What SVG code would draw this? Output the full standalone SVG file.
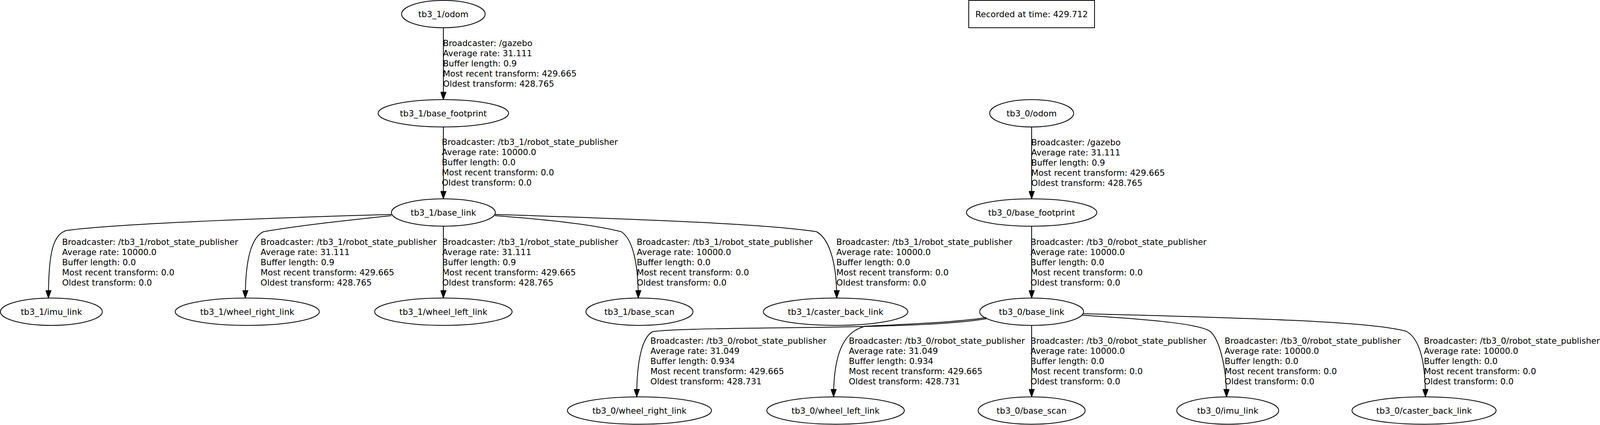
<svg xmlns="http://www.w3.org/2000/svg" width="4110" height="1088" viewBox="0 0 4110 1088">
<style>
  .node ellipse, .node rect { fill: none; stroke: #000; stroke-width: 2; }
  .nt { font-family: "DejaVu Sans", "Liberation Sans", sans-serif; font-size: 21.5px; fill: #000; text-anchor: middle; }
  .lbl { font-family: "DejaVu Sans", "Liberation Sans", sans-serif; font-size: 21.5px; fill: #000; }
  .edge { fill: none; stroke: #000; stroke-width: 2; marker-end: url(#arrow); }
</style>
<defs>
  <marker id="arrow" viewBox="0 0 21 15" refX="20" refY="7.5" markerWidth="21" markerHeight="15" markerUnits="userSpaceOnUse" orient="auto">
    <path d="M0,0 L21,7.5 L0,15 z" fill="#000" stroke="#000" stroke-width="1"/>
  </marker>
</defs>
<rect x="0" y="0" width="4110" height="1088" fill="#fff"/>

<g id="connectors">
  <path class="edge" d="M1135,71 L1135,255"/>
  <path class="edge" d="M1135,325 L1135,509"/>
  <path class="edge" d="M2641,325 L2641,509"/>
  <path class="edge" d="M2641,579 L2641,763"/>
  <path class="edge" d="M1002,549 C750,556 300,572 170,590 C135,600 124,650 124,763"/>
  <path class="edge" d="M1002,552 C880,565 760,578 675,593 C648,605 628,650 628,763"/>
  <path class="edge" d="M1135,579 L1135,763"/>
  <path class="edge" d="M1267,552 C1400,562 1520,575 1590,593 C1615,608 1634,660 1634,763"/>
  <path class="edge" d="M1267,549 C1600,560 1950,572 2090,593 C2118,608 2142,660 2142,763"/>
  <path class="edge" d="M2525,816 C2440,830 2300,835 2100,838 C1900,840 1720,842 1671,849 C1645,862 1630,920 1630,1016"/>
  <path class="edge" d="M2525,813 C2440,826 2300,831 2215,835 C2180,845 2134,870 2134,1016"/>
  <path class="edge" d="M2641,832 L2641,1016"/>
  <path class="edge" d="M2771,807 C2950,818 3080,830 3100,850 C3120,870 3139,930 3140,1016"/>
  <path class="edge" d="M2773,803 C3100,812 3500,820 3600,848 C3625,862 3649,900 3649,1016"/>

  <text class="lbl" x="1134" y="118"><tspan x="1134">Broadcaster: /gazebo</tspan><tspan x="1134" dy="25.9">Average rate: 31.111</tspan><tspan x="1134" dy="25.9">Buffer length: 0.9</tspan><tspan x="1134" dy="25.9">Most recent transform: 429.665</tspan><tspan x="1134" dy="25.9">Oldest transform: 428.765</tspan></text>
  <text class="lbl" x="1131" y="371"><tspan x="1131">Broadcaster: /tb3_1/robot_state_publisher</tspan><tspan x="1131" dy="25.9">Average rate: 10000.0</tspan><tspan x="1131" dy="25.9">Buffer length: 0.0</tspan><tspan x="1131" dy="25.9">Most recent transform: 0.0</tspan><tspan x="1131" dy="25.9">Oldest transform: 0.0</tspan></text>
  <text class="lbl" x="2640" y="372"><tspan x="2640">Broadcaster: /gazebo</tspan><tspan x="2640" dy="25.9">Average rate: 31.111</tspan><tspan x="2640" dy="25.9">Buffer length: 0.9</tspan><tspan x="2640" dy="25.9">Most recent transform: 429.665</tspan><tspan x="2640" dy="25.9">Oldest transform: 428.765</tspan></text>
  <text class="lbl" x="2638" y="627"><tspan x="2638">Broadcaster: /tb3_0/robot_state_publisher</tspan><tspan x="2638" dy="25.9">Average rate: 10000.0</tspan><tspan x="2638" dy="25.9">Buffer length: 0.0</tspan><tspan x="2638" dy="25.9">Most recent transform: 0.0</tspan><tspan x="2638" dy="25.9">Oldest transform: 0.0</tspan></text>
  <text class="lbl" x="159" y="627"><tspan x="159">Broadcaster: /tb3_1/robot_state_publisher</tspan><tspan x="159" dy="25.9">Average rate: 10000.0</tspan><tspan x="159" dy="25.9">Buffer length: 0.0</tspan><tspan x="159" dy="25.9">Most recent transform: 0.0</tspan><tspan x="159" dy="25.9">Oldest transform: 0.0</tspan></text>
  <text class="lbl" x="667" y="627"><tspan x="667">Broadcaster: /tb3_1/robot_state_publisher</tspan><tspan x="667" dy="25.9">Average rate: 31.111</tspan><tspan x="667" dy="25.9">Buffer length: 0.9</tspan><tspan x="667" dy="25.9">Most recent transform: 429.665</tspan><tspan x="667" dy="25.9">Oldest transform: 428.765</tspan></text>
  <text class="lbl" x="1132" y="627"><tspan x="1132">Broadcaster: /tb3_1/robot_state_publisher</tspan><tspan x="1132" dy="25.9">Average rate: 31.111</tspan><tspan x="1132" dy="25.9">Buffer length: 0.9</tspan><tspan x="1132" dy="25.9">Most recent transform: 429.665</tspan><tspan x="1132" dy="25.9">Oldest transform: 428.765</tspan></text>
  <text class="lbl" x="1630" y="627"><tspan x="1630">Broadcaster: /tb3_1/robot_state_publisher</tspan><tspan x="1630" dy="25.9">Average rate: 10000.0</tspan><tspan x="1630" dy="25.9">Buffer length: 0.0</tspan><tspan x="1630" dy="25.9">Most recent transform: 0.0</tspan><tspan x="1630" dy="25.9">Oldest transform: 0.0</tspan></text>
  <text class="lbl" x="2141" y="627"><tspan x="2141">Broadcaster: /tb3_1/robot_state_publisher</tspan><tspan x="2141" dy="25.9">Average rate: 10000.0</tspan><tspan x="2141" dy="25.9">Buffer length: 0.0</tspan><tspan x="2141" dy="25.9">Most recent transform: 0.0</tspan><tspan x="2141" dy="25.9">Oldest transform: 0.0</tspan></text>
  <text class="lbl" x="1665" y="880"><tspan x="1665">Broadcaster: /tb3_0/robot_state_publisher</tspan><tspan x="1665" dy="25.9">Average rate: 31.049</tspan><tspan x="1665" dy="25.9">Buffer length: 0.934</tspan><tspan x="1665" dy="25.9">Most recent transform: 429.665</tspan><tspan x="1665" dy="25.9">Oldest transform: 428.731</tspan></text>
  <text class="lbl" x="2173" y="880"><tspan x="2173">Broadcaster: /tb3_0/robot_state_publisher</tspan><tspan x="2173" dy="25.9">Average rate: 31.049</tspan><tspan x="2173" dy="25.9">Buffer length: 0.934</tspan><tspan x="2173" dy="25.9">Most recent transform: 429.665</tspan><tspan x="2173" dy="25.9">Oldest transform: 428.731</tspan></text>
  <text class="lbl" x="2638" y="880"><tspan x="2638">Broadcaster: /tb3_0/robot_state_publisher</tspan><tspan x="2638" dy="25.9">Average rate: 10000.0</tspan><tspan x="2638" dy="25.9">Buffer length: 0.0</tspan><tspan x="2638" dy="25.9">Most recent transform: 0.0</tspan><tspan x="2638" dy="25.9">Oldest transform: 0.0</tspan></text>
  <text class="lbl" x="3135" y="880"><tspan x="3135">Broadcaster: /tb3_0/robot_state_publisher</tspan><tspan x="3135" dy="25.9">Average rate: 10000.0</tspan><tspan x="3135" dy="25.9">Buffer length: 0.0</tspan><tspan x="3135" dy="25.9">Most recent transform: 0.0</tspan><tspan x="3135" dy="25.9">Oldest transform: 0.0</tspan></text>
  <text class="lbl" x="3645" y="880"><tspan x="3645">Broadcaster: /tb3_0/robot_state_publisher</tspan><tspan x="3645" dy="25.9">Average rate: 10000.0</tspan><tspan x="3645" dy="25.9">Buffer length: 0.0</tspan><tspan x="3645" dy="25.9">Most recent transform: 0.0</tspan><tspan x="3645" dy="25.9">Oldest transform: 0.0</tspan></text>
</g>

<g id="recorded_time" class="node"><rect x="2480" y="1" width="322" height="70"/><text class="nt" x="2641" y="44">Recorded at time: 429.712</text></g>

<g id="tb3_1_odom" class="node"><ellipse cx="1135" cy="36" rx="107" ry="35"/><text class="nt" x="1135" y="44">tb3_1/odom</text></g>
<g id="tb3_1_base_footprint" class="node"><ellipse cx="1135" cy="290" rx="167" ry="35"/><text class="nt" x="1135" y="298">tb3_1/base_footprint</text></g>
<g id="tb3_0_odom" class="node"><ellipse cx="2641" cy="290" rx="107.5" ry="35"/><text class="nt" x="2641" y="298">tb3_0/odom</text></g>
<g id="tb3_1_base_link" class="node"><ellipse cx="1135" cy="544" rx="133" ry="35"/><text class="nt" x="1135" y="552">tb3_1/base_link</text></g>
<g id="tb3_0_base_footprint" class="node"><ellipse cx="2641" cy="544" rx="167" ry="35"/><text class="nt" x="2641" y="552">tb3_0/base_footprint</text></g>
<g id="tb3_1_imu_link" class="node"><ellipse cx="131.5" cy="798" rx="130.5" ry="35"/><text class="nt" x="131.5" y="806">tb3_1/imu_link</text></g>
<g id="tb3_1_wheel_right_link" class="node"><ellipse cx="633" cy="798" rx="184.5" ry="35"/><text class="nt" x="633" y="806">tb3_1/wheel_right_link</text></g>
<g id="tb3_1_wheel_left_link" class="node"><ellipse cx="1135" cy="798" rx="176" ry="35"/><text class="nt" x="1135" y="806">tb3_1/wheel_left_link</text></g>
<g id="tb3_1_base_scan" class="node"><ellipse cx="1637" cy="798" rx="137" ry="35"/><text class="nt" x="1637" y="806">tb3_1/base_scan</text></g>
<g id="tb3_1_caster_back_link" class="node"><ellipse cx="2139" cy="798" rx="185" ry="35"/><text class="nt" x="2139" y="806">tb3_1/caster_back_link</text></g>
<g id="tb3_0_base_link" class="node"><ellipse cx="2641" cy="798" rx="133" ry="35"/><text class="nt" x="2641" y="806">tb3_0/base_link</text></g>
<g id="tb3_0_wheel_right_link" class="node"><ellipse cx="1637" cy="1051" rx="184.5" ry="35"/><text class="nt" x="1637" y="1059">tb3_0/wheel_right_link</text></g>
<g id="tb3_0_wheel_left_link" class="node"><ellipse cx="2139" cy="1051" rx="176" ry="35"/><text class="nt" x="2139" y="1059">tb3_0/wheel_left_link</text></g>
<g id="tb3_0_base_scan" class="node"><ellipse cx="2641" cy="1051" rx="137" ry="35"/><text class="nt" x="2641" y="1059">tb3_0/base_scan</text></g>
<g id="tb3_0_imu_link" class="node"><ellipse cx="3143" cy="1051" rx="130.5" ry="35"/><text class="nt" x="3143" y="1059">tb3_0/imu_link</text></g>
<g id="tb3_0_caster_back_link" class="node"><ellipse cx="3645.5" cy="1051" rx="184.5" ry="35"/><text class="nt" x="3645.5" y="1059">tb3_0/caster_back_link</text></g>
</svg>
